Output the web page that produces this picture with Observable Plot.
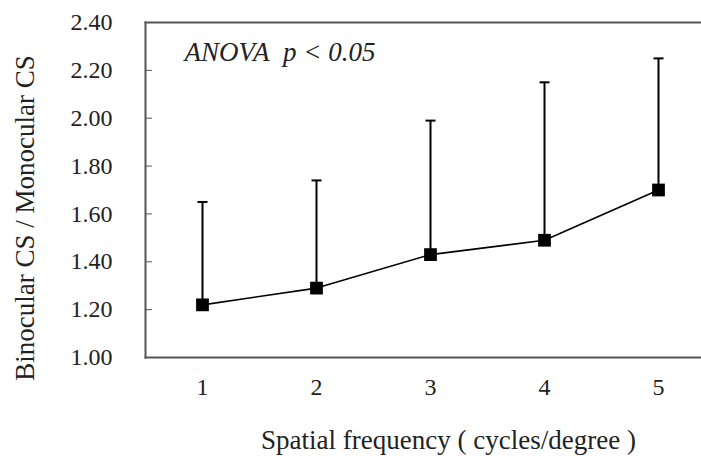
<!DOCTYPE html>
<html>
<head>
<meta charset="utf-8">
<script src="https://cdn.jsdelivr.net/npm/d3@7"></script>
<script src="https://cdn.jsdelivr.net/npm/@observablehq/plot@0.6"></script>
<style>
  html, body { margin: 0; padding: 0; background: #fff; }
</style>
</head>
<body>
<div id="chart"></div>
<script>
const frequencies = [1, 2, 3, 4, 5];
const means = [1.22, 1.29, 1.43, 1.49, 1.70];
const upperErrors = [1.65, 1.74, 1.99, 2.15, 2.25];
const yTicks = [1.00, 1.20, 1.40, 1.60, 1.80, 2.00, 2.20, 2.40];
const xTicks = [1, 2, 3, 4, 5];
const annotation = "ANOVA\u00a0\u00a0p < 0.05";
const xLabel = "Spatial frequency ( cycles/degree )";
const yLabel = "Binocular CS / Monocular CS";

const data = frequencies.map((f, i) => ({sf: f, mean: means[i], upper: upperErrors[i]}));

const capSymbol = {
  draw(ctx, size) {
    const r = Math.sqrt(size / Math.PI);
    ctx.moveTo(-r, 0);
    ctx.lineTo(r, 0);
  }
};

const axisColor = "#555";
const textColor = "#222";

const chart = Plot.plot({
  width: 701,
  height: 456,
  marginLeft: 145,
  marginRight: 0,
  marginTop: 22,
  marginBottom: 99,
  style: {fontFamily: "'Liberation Serif', 'Times New Roman', serif", background: "#fff", color: textColor},
  x: {domain: [0.5, 5.5], range: [145, 715]},
  y: {domain: [1.0, 2.4]},
  marks: [
    Plot.frame({anchor: "left", stroke: axisColor, strokeWidth: 2}),
    Plot.frame({anchor: "top", stroke: axisColor, strokeWidth: 2}),
    Plot.frame({anchor: "bottom", stroke: axisColor, strokeWidth: 2}),
    Plot.axisY({ticks: yTicks, tickSize: -7, tickPadding: 40, stroke: axisColor, tickFormat: d => d.toFixed(2), fontSize: 24, fill: textColor, label: null}),
    Plot.axisX({ticks: xTicks, tickSize: 0, tickPadding: 20, tickFormat: d => String(d), fontSize: 24, fill: textColor, label: null}),
    Plot.ruleX(data, {x: "sf", y1: "mean", y2: "upper", stroke: "#000", strokeWidth: 2}),
    Plot.dot(data, {x: "sf", y: "upper", symbol: capSymbol, r: 5, stroke: "#000", strokeWidth: 2}),
    Plot.line(data, {x: "sf", y: "mean", stroke: "#000", strokeWidth: 1.6}),
    Plot.dot(data, {x: "sf", y: "mean", symbol: "square", r: 7.2, fill: "#000", stroke: "none"}),
    Plot.text([annotation], {frameAnchor: "top-left", dx: 39, dy: 30, textAnchor: "start", lineAnchor: "middle", fontStyle: "italic", fontSize: 27, fill: textColor}),
    Plot.text([xLabel], {frameAnchor: "bottom", dx: 25, dy: 83, textAnchor: "middle", lineAnchor: "middle", fontSize: 27, fill: textColor}),
    Plot.text([yLabel], {frameAnchor: "left", dx: -120, dy: 28, textAnchor: "middle", lineAnchor: "middle", rotate: -90, fontSize: 27, fill: textColor})
  ]
});
document.getElementById("chart").appendChild(chart);
</script>
</body>
</html>
